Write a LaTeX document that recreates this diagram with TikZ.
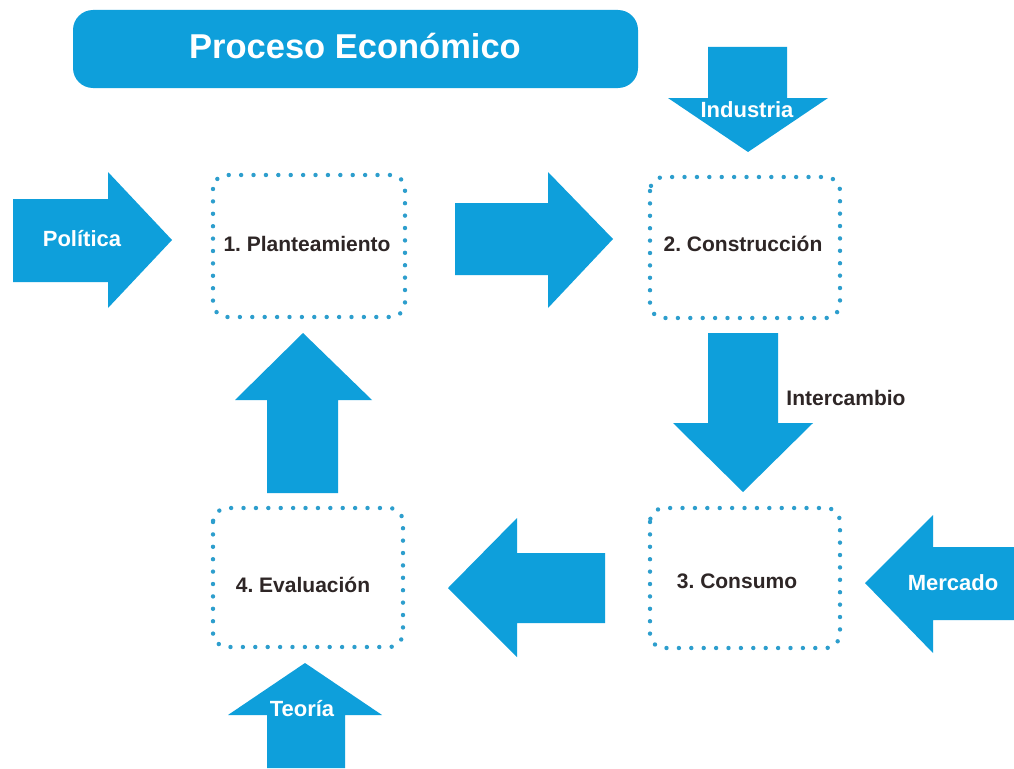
\documentclass[tikz,border=0pt]{standalone}
\usepackage{fontspec}
\setmainfont{Liberation Sans}
\definecolor{ablue}{RGB}{14,159,219}
\definecolor{dblue}{RGB}{45,158,205}
\definecolor{dtext}{RGB}{46,38,38}
\tikzset{
  blockarrow/.style={fill=ablue, draw=none},
  stage/.style={draw=dblue, line width=4.4pt, line cap=round, dash pattern=on 0pt off 12.4pt, rounded corners=14pt},
  stagelabel/.style={text=dtext, font=\bfseries\fontsize{21}{24}\selectfont, anchor=base, inner sep=0pt},
  arrowlabel/.style={text=white, font=\bfseries\fontsize{22}{25}\selectfont, anchor=base, inner sep=0pt},
}
\frenchspacing
\begin{document}
\frenchspacing
\begin{tikzpicture}[x=1pt,y=-1pt]
\useasboundingbox (0,0) rectangle (1014,768);
\fill[white] (0,0) rectangle (1014,768);

% title
\fill[ablue, rounded corners=20pt] (73,10) rectangle (638,88);
\node[text=white, font=\bfseries\fontsize{34.5}{38}\selectfont, anchor=base, inner sep=0pt] (title) at (355,59) {Proceso Económico};

% stage boxes
\draw[stage] (213,175) rectangle (405,317);
\draw[stage] (650,177) rectangle (840,318);
\draw[stage] (650,508) rectangle (840,648);
\draw[stage] (213,508) rectangle (403,647);
\node[stagelabel] (s1) at (307,251) {1. Planteamiento};
\node[stagelabel] (s2) at (743,251) {2. Construcción};
\node[stagelabel] (s3) at (737,588) {3. Consumo};
\node[stagelabel] (s4) at (303,592) {4. Evaluación};

% Política arrow
\fill[blockarrow] (13,199) -- (108,199) -- (108,172) -- (172,240) -- (108,308) -- (108,282) -- (13,282) -- cycle;
\node[arrowlabel] (pol) at (82,246) {Política};

% 1 -> 2 arrow
\fill[blockarrow] (455,203) -- (548,203) -- (548,172) -- (613,239) -- (548,308) -- (548,275) -- (455,275) -- cycle;

% Industria arrow
\fill[blockarrow] (708,47) -- (787,47) -- (787,98) -- (828,98) -- (748,152) -- (668,98) -- (708,98) -- cycle;
\node[arrowlabel] (ind) at (747,117) {Industria};

% Intercambio arrow
\fill[blockarrow] (708,333) -- (778,333) -- (778,423) -- (813,423) -- (743,492) -- (673,423) -- (708,423) -- cycle;
\node[stagelabel] (inter) at (846,405) {Intercambio};

% Mercado arrow
\fill[blockarrow] (1014,547) -- (933,547) -- (933,515) -- (865,583) -- (933,653) -- (933,620) -- (1014,620) -- cycle;
\node[arrowlabel] (mer) at (953,590) {Mercado};

% 3 -> 4 arrow
\fill[blockarrow] (605,553) -- (517,553) -- (517,518) -- (448,588) -- (517,657) -- (517,623) -- (605,623) -- cycle;

% 4 -> 1 arrow
\fill[blockarrow] (267,493) -- (267,400) -- (235,400) -- (303,333) -- (372,400) -- (338,400) -- (338,493) -- cycle;

% Teoría arrow
\fill[blockarrow] (267,768) -- (267,715) -- (228,715) -- (305,663) -- (382,715) -- (345,715) -- (345,768) -- cycle;
\node[arrowlabel] (teo) at (302,716) {Teoría};
\end{tikzpicture}
\end{document}
